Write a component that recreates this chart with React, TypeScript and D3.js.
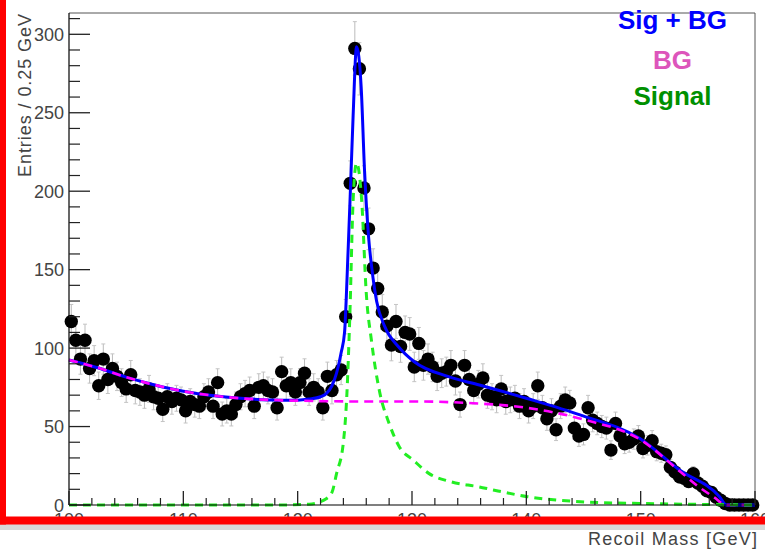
import React from 'react';
import * as d3 from 'd3';

// ---- Data ----
const BIN_START = 100;
const BIN_WIDTH = 0.4;
const counts: number[] = [
  117, 105, 93, 105, 87, 92, 76, 93, 80, 87,
  82, 78, 74, 83, 73, 72, 70, 74, 69, 68,
  61, 69, 66, 68, 67, 60, 66, 64, 63, 69,
  72, 63, 78, 58, 60, 58, 64, 69, 71, 73,
  63, 75, 76, 73, 72, 62, 85, 76, 78, 72,
  78, 84, 72, 75, 72, 62, 82, 73, 83, 86,
  120, 205, 291, 278, 202, 176, 151, 138, 123, 114,
  102, 117, 101, 110, 109, 88, 103, 89, 93, 88,
  82, 84, 85, 89, 79, 64, 89, 80, 73, 77,
  81, 70, 69, 67, 74, 66, 67, 68, 63, 66,
  60, 63, 76, 62, 55, 60, 48, 63, 67, 65,
  49, 44, 45, 62, 54, 52, 50, 49, 35, 52,
  44, 39, 40, 42, 44, 36, 38, 41, 34, 33,
  32, 24, 21, 18, 17, 15, 20, 14, 12, 9,
  8, 5, 3, 1, 0, 0, 0, 0, 0, 0,
];

const sumCurve: [number, number][] = [
  [100, 92.4], [102.5, 87.5], [105, 81.5], [107.5, 76.5], [110, 72.5],
  [112.5, 69.8], [115, 68], [117.5, 67], [120, 66.8], [121, 67.5],
  [122, 69], [122.5, 71], [123, 76], [123.4, 84], [123.8, 97],
  [124.1, 110], [124.4, 160], [124.6, 198], [124.85, 248], [125.15, 292],
  [125.55, 267], [125.85, 213], [126.2, 171], [126.5, 150], [126.9, 130],
  [127.6, 114], [128.8, 101], [130.2, 91.3], [133.2, 81.8], [135.9, 76.5],
  [140, 68], [144.7, 57.4], [149.9, 42.5], [153.4, 22.3], [156.9, 5.3],
  [157.5, 0], [160, 0],
];

const bgCurve: [number, number][] = [
  [100, 92.4], [102.5, 87.5], [105, 81.5], [107.5, 76.5], [110, 72.5],
  [112.5, 69.8], [115, 68], [117.5, 67], [120, 66.5], [125, 66],
  [130, 66], [135, 65], [140, 62], [145, 54.5], [150, 41.5],
  [153.5, 21], [155, 12], [156.5, 4.5], [157.4, 0], [160, 0],
];

const sigCurve: [number, number][] = [
  [100, 0], [118, 0], [121, 0.5], [122.5, 4], [123, 8],
  [123.4, 20], [124, 40], [124.3, 70], [124.56, 120], [124.85, 194],
  [125.15, 218], [125.6, 194], [126, 135], [126.45, 105], [127.2, 71],
  [128, 52], [128.9, 37], [130.1, 28.7], [131.5, 20], [133.3, 15],
  [135.9, 11.5], [137.1, 9.6], [140.1, 5.3], [144.7, 2.1], [149.9, 1],
  [155, 0.4], [160, 0],
];

const xMajorTicks = [100, 110, 120, 130, 140, 150, 160];
const yMajorTicks = [0, 50, 100, 150, 200, 250, 300];
const legendItems = [
  { label: 'Sig + BG', color: '#0000ff' },
  { label: 'BG', color: '#dd55bb' },
  { label: 'Signal', color: '#009000' },
];

export default function App() {
  const W = 765, H = 550;
  const x = d3.scaleLinear().domain([100, 160]).range([69, 755]);
  const y = d3.scaleLinear().domain([0, 300]).range([505, 34.3]);
  const yTop = 13;
  const yBottom = 505;

  const xMinor = d3.range(100, 160.001, 2).filter(v => !xMajorTicks.includes(Math.round(v)));
  const yMinor = d3.range(0, 311, 10).filter(v => v % 50 !== 0);

  const line = d3.line<[number, number]>()
    .x(d => x(d[0]))
    .y(d => y(d[1]))
    .curve(d3.curveMonotoneX);

  const font = 'Liberation Sans, Arial, Helvetica, sans-serif';

  return (
    <svg width={W} height={H} style={{ position: 'fixed', left: 0, top: 0, background: '#fff' }}>
      <rect x={0} y={0} width={W} height={H} fill="#fff" />
      {/* frame */}
      <line x1={69} y1={yTop} x2={755} y2={yTop} stroke="#555" strokeWidth={1} />
      <line x1={755} y1={yTop} x2={755} y2={yBottom} stroke="#555" strokeWidth={1} />

      {/* data points with errors */}
      <g>
        {counts.map((c, i) => {
          const m = BIN_START + BIN_WIDTH * (i + 0.5);
          const cx = x(m);
          const e = Math.sqrt(c);
          const y1 = y(c + e), y2 = y(Math.max(0, c - e));
          return (
            <g key={i}>
              {c > 0 && (
                <>
                  <line x1={cx} x2={cx} y1={y1} y2={y2} stroke="#bbb" strokeWidth={1} />
                  <line x1={cx - 2} x2={cx + 2} y1={y1} y2={y1} stroke="#c4c4c4" strokeWidth={1} />
                  <line x1={cx - 2} x2={cx + 2} y1={y2} y2={y2} stroke="#c4c4c4" strokeWidth={1} />
                </>
              )}
            </g>
          );
        })}
        {counts.map((c, i) => {
          const m = BIN_START + BIN_WIDTH * (i + 0.5);
          return <circle key={'c' + i} cx={x(m)} cy={y(c)} r={6.7} fill="#000" />;
        })}
      </g>

      {/* curves */}
      <path d={line(sumCurve) || ''} fill="none" stroke="#0000ff" strokeWidth={3} />
      <path d={line(bgCurve) || ''} fill="none" stroke="#ff00ff" strokeWidth={2.6} strokeDasharray="9,6" />
      <path d={line(sigCurve) || ''} fill="none" stroke="#22ee22" strokeWidth={3} strokeDasharray="8,6" />

      {/* y axis */}
      <line x1={69} y1={yTop} x2={69} y2={yBottom} stroke="#000" strokeWidth={1.2} />
      {yMajorTicks.map(v => (
        <g key={'ym' + v}>
          <line x1={69} x2={90} y1={y(v)} y2={y(v)} stroke="#222" strokeWidth={1.3} />
          <text x={64} y={y(v) + 6.5} textAnchor="end" fontFamily={font} fontSize={18} fill="#444">{v}</text>
        </g>
      ))}
      {yMinor.map(v => (
        <line key={'yn' + v} x1={69} x2={80} y1={y(v)} y2={y(v)} stroke="#222" strokeWidth={1.2} />
      ))}
      <text transform={`translate(31, 14) rotate(-90)`} textAnchor="end" fontFamily={font} fontSize={18} fill="#444"
        textLength={163} lengthAdjust="spacing">
        Entries / 0.25 GeV
      </text>

      {/* x axis */}
      <line x1={69} y1={yBottom} x2={755} y2={yBottom} stroke="#000" strokeWidth={1.2} />
      {xMajorTicks.map(v => (
        <g key={'xm' + v}>
          <line x1={x(v)} x2={x(v)} y1={yBottom} y2={yBottom - 14} stroke="#222" strokeWidth={1.3} />
          <text x={x(v)} y={526} textAnchor="middle" fontFamily={font} fontSize={18} fill="#444">{v}</text>
        </g>
      ))}
      {xMinor.map(v => (
        <line key={'xn' + v} x1={x(v)} x2={x(v)} y1={yBottom} y2={yBottom - 7} stroke="#222" strokeWidth={1.2} />
      ))}
      <text x={757} y={545} textAnchor="end" fontFamily={font} fontSize={18} fill="#444" textLength={169} lengthAdjust="spacing">
        Recoil Mass [GeV]
      </text>

      {/* legend */}
      {legendItems.map((it, i) => (
        <text key={it.label} x={672.5} y={[28.5, 68.5, 105][i]} textAnchor="middle" fontFamily={font}
          fontWeight="bold" fontSize={26} fill={it.color}>
          {it.label}
        </text>
      ))}

      {/* red annotation bars */}
      <rect x={0} y={524} width={W} height={6} fill="#d8d8d8" />
      <rect x={0} y={516.5} width={W} height={8} fill="#ff0000" />
      <rect x={0} y={0} width={6} height={524.5} fill="#ff0000" />
    </svg>
  );
}
